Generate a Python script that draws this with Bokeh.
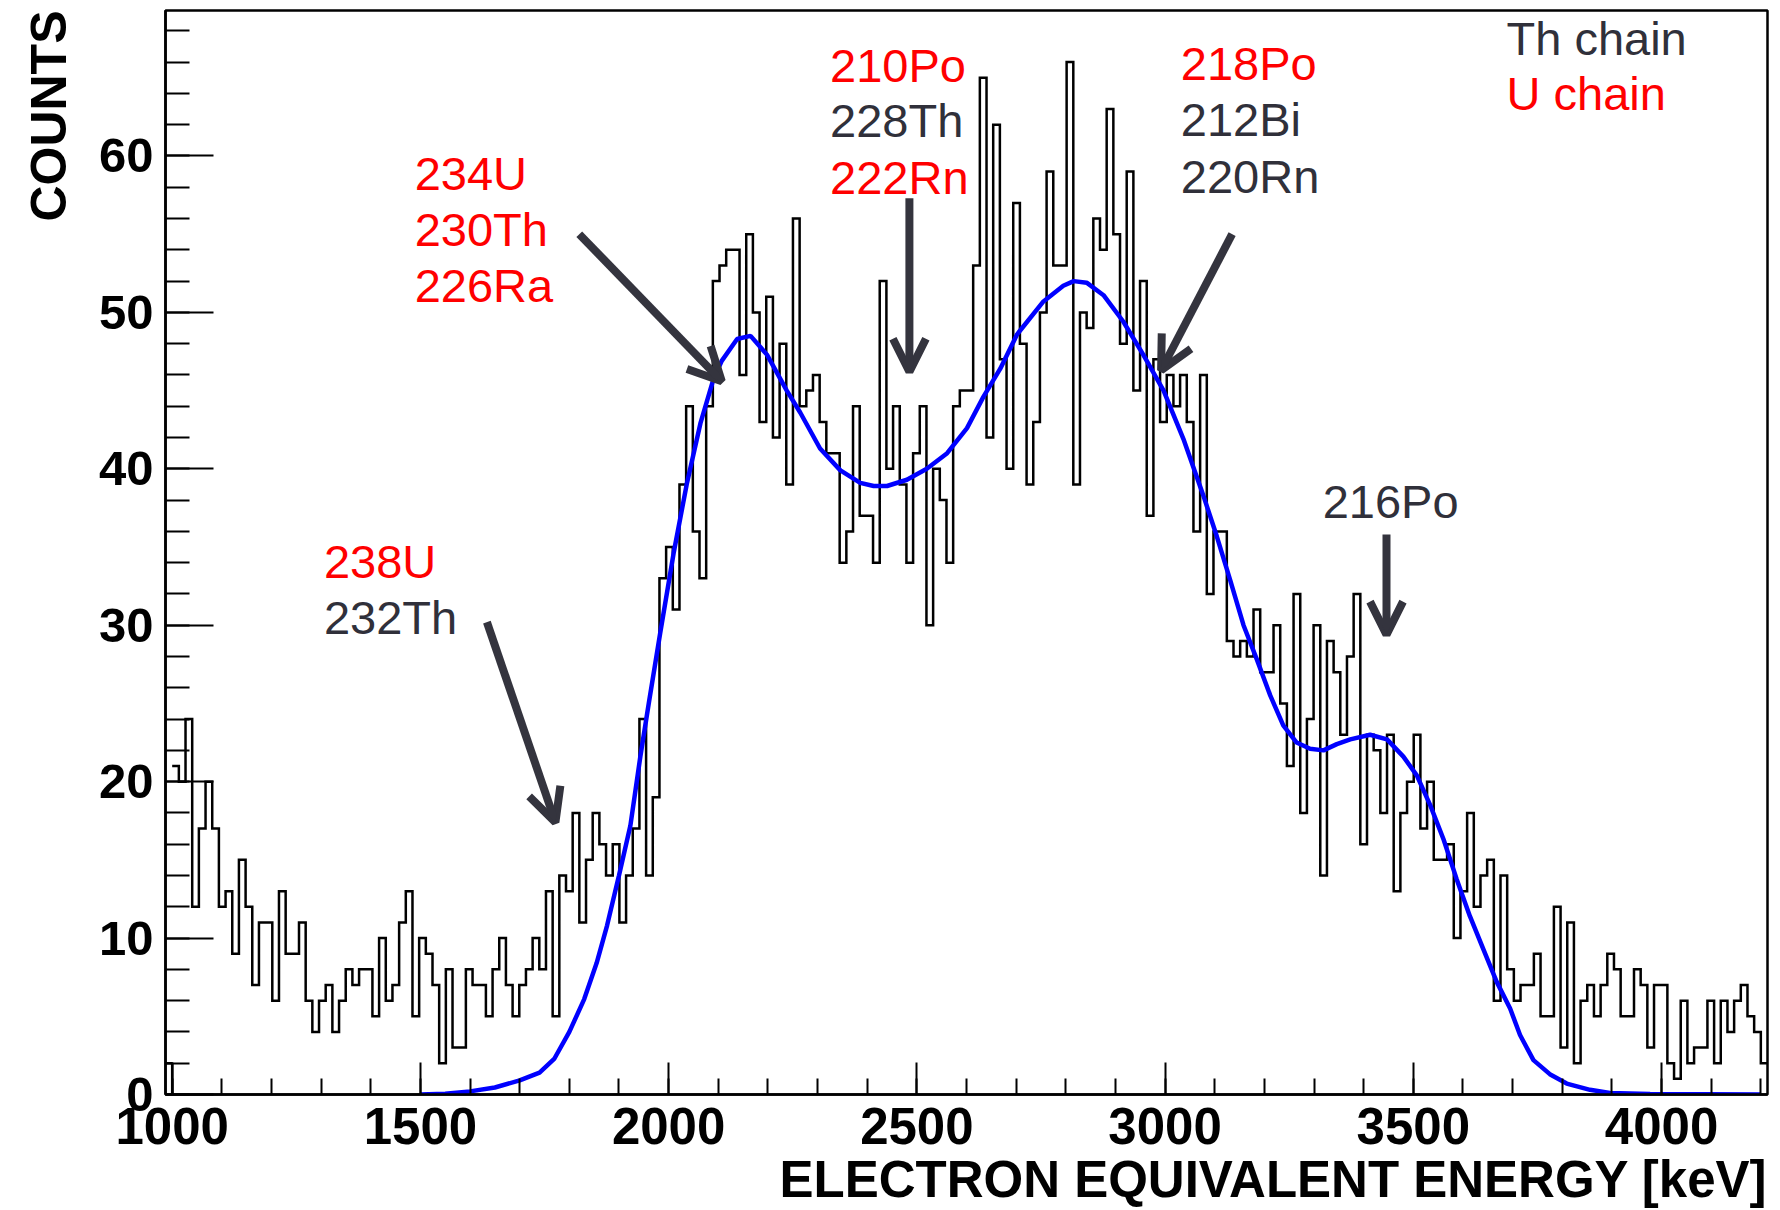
import numpy as np
from bokeh.plotting import figure
from bokeh.models import Range1d, FixedTicker, Label, Arrow, OpenHead, Title
from bokeh.embed import file_html
from bokeh.resources import INLINE

# ---------------- histogram definition ----------------
N_BINS = 240
E_LOW = 986.555
E_HIGH = 4213.445

counts_edge = [2]
counts_1000_1570 = [21, 20, 24, 12, 17, 20, 17, 12, 13, 9, 15, 12, 7, 11, 11, 6, 13, 9, 9, 11,
                    6, 4, 6, 7, 4, 6, 8, 7, 8, 8, 5, 10, 6, 7, 11, 13, 5, 10, 9, 7, 2, 8, 3]
counts_1570_1990 = [3, 8, 7, 7, 5, 8, 10, 7, 5, 7, 8, 10, 8, 13, 5, 14, 13, 18, 11, 15,
                    18, 16, 14, 16, 11, 14, 17, 24, 14, 19]
counts_1990_2070 = [33, 35, 31, 39, 44, 36]
counts_2070_2660 = [33, 44, 52, 53, 54, 54, 46, 55, 50, 43, 51, 42, 48, 39, 56, 44, 45, 46, 43, 41,
                    41, 34, 36, 44, 37, 37, 34, 52, 40, 44, 39, 34, 41, 44, 30, 40, 38, 34, 44, 45,
                    45, 53, 65, 42]
counts_2660_3060 = [62, 47, 40, 57, 48, 39, 43, 50, 59, 53, 53, 66, 39, 50, 49, 56, 54, 63, 55, 48,
                    59, 45, 52, 37, 47, 43, 46, 44, 46, 43]
counts_3060_3410 = [36, 46, 32, 36, 36, 29, 28, 29, 28, 31, 27, 27, 30, 25, 21, 32, 18, 24, 30, 14,
                    29, 27, 23, 28, 32, 16]
counts_3410_3730 = [23, 22, 18, 23, 13, 18, 20, 23, 17, 20, 15, 15, 16, 10, 13, 18, 12, 14, 15, 6,
                    14, 8, 6, 7]
counts_3730_4213 = [7, 9, 5, 5, 12, 3, 11, 2, 6, 7, 5, 7, 9, 8, 5, 5, 8, 7, 3, 7,
                    7, 2, 1, 6, 2, 3, 3, 6, 2, 6, 4, 6, 7, 5, 4, 2]

counts = np.array(counts_edge + counts_1000_1570 + counts_1570_1990 + counts_1990_2070
                  + counts_2070_2660 + counts_2660_3060 + counts_3060_3410
                  + counts_3410_3730 + counts_3730_4213, dtype=float)
assert len(counts) == N_BINS
edges = np.linspace(E_LOW, E_HIGH, N_BINS + 1)

# ---------------- fitted curve ----------------
fit_energy = [1500, 1550, 1600, 1650, 1700, 1740, 1770, 1800, 1830, 1855, 1876, 1900, 1923, 1943,
              1960, 1983, 2010, 2037, 2064, 2090, 2107, 2138, 2165, 2198, 2238, 2265, 2305, 2346,
              2386, 2413, 2440, 2480, 2520, 2561, 2601, 2634, 2668, 2702, 2755, 2795, 2816, 2842,
              2876, 2916, 2956, 2997, 3037, 3077, 3104, 3131, 3158, 3185, 3212, 3238, 3265, 3292,
              3319, 3346, 3373, 3413, 3447, 3480, 3507, 3534, 3561, 3587, 3614, 3641, 3668, 3695,
              3715, 3742, 3775, 3809, 3856, 3896, 3977, 4200]
fit_counts = [0.0, 0.05, 0.2, 0.45, 0.9, 1.4, 2.3, 4.0, 6.1, 8.4, 10.8, 14.0, 17.2, 21.6,
              25.0, 29.5, 34.6, 39.1, 42.9, 45.7, 46.9, 48.3, 48.5, 47.3, 45.0, 43.6, 41.3, 39.9,
              39.1, 38.9, 38.9, 39.3, 40.0, 41.0, 42.6, 44.6, 46.4, 48.6, 50.7, 51.7, 52.0, 51.9,
              51.1, 49.4, 47.3, 45.0, 41.9, 38.3, 35.7, 32.9, 30.0, 27.8, 25.5, 23.6, 22.5, 22.1,
              22.0, 22.4, 22.7, 23.0, 22.7, 21.6, 20.4, 18.5, 16.3, 13.8, 11.4, 9.3, 7.2, 5.5,
              3.8, 2.2, 1.3, 0.7, 0.3, 0.1, 0.03, 0.0]

# ---------------- axis ticks ----------------
x_major = [1000, 1500, 2000, 2500, 3000, 3500, 4000]
x_minor = list(range(1000, 4201, 100))
y_major = [0, 10, 20, 30, 40, 50, 60]
y_minor = list(range(0, 70, 2))

X_TITLE = "ELECTRON EQUIVALENT ENERGY [keV]"
Y_TITLE = "COUNTS"

RED = "#ff0000"
GRAY = "#30303a"
ARROW = "#34343e"

p = figure(width=1780, height=1210, output_backend="svg", toolbar_location=None,
           x_range=Range1d(E_LOW, E_HIGH), y_range=Range1d(0, 69.3),
           min_border_left=165, min_border_right=13, min_border_top=10, min_border_bottom=115)
p.xgrid.visible = False
p.ygrid.visible = False
p.background_fill_color = "white"
p.border_fill_color = "white"
p.outline_line_color = "black"
p.outline_line_width = 2.5
p.outline_line_alpha = 1.0

for ax in (p.xaxis[0], p.yaxis[0]):
    ax.axis_line_width = 2.5
    ax.major_tick_line_width = 2
    ax.minor_tick_line_width = 2
    ax.major_tick_out = 0
    ax.minor_tick_out = 0
    ax.major_label_text_font = "Liberation Sans"
    ax.major_label_text_font_style = "bold"
    ax.major_label_text_color = "black"

p.xaxis.ticker = FixedTicker(ticks=x_major, minor_ticks=x_minor)
p.xaxis.major_tick_in = 32
p.xaxis.minor_tick_in = 16
p.xaxis.major_label_text_font_size = "51px"
p.xaxis.major_label_standoff = 13

p.yaxis.ticker = FixedTicker(ticks=y_major, minor_ticks=y_minor)
p.yaxis.major_tick_in = 48
p.yaxis.minor_tick_in = 24
p.yaxis.major_label_text_font_size = "49px"
p.yaxis.major_label_standoff = 12

p.add_layout(Title(text=X_TITLE, align="right", text_font="Liberation Sans",
                   text_font_style="bold", text_font_size="51px", text_color="black",
                   standoff=5), "below")
p.add_layout(Title(text=Y_TITLE, align="right", text_font="Liberation Sans",
                   text_font_style="bold", text_font_size="50px", text_color="black",
                   standoff=37), "left")

# histogram outline
first_x = [edges[0], edges[1], edges[1]]
first_y = [counts[0], counts[0], 0]
p.line(first_x, first_y, line_color="black", line_width=2.5)
hx = np.column_stack([edges[1:-1], edges[2:]]).ravel()
hy = np.repeat(counts[1:], 2)
p.line(hx, hy, line_color="black", line_width=2.5, line_join="miter")

# fit
p.line(fit_energy, fit_counts, line_color="#0000ff", line_width=4.5)

# annotations
labels = [
    ("Th chain", GRAY, 3687.7, 67.5),
    ("U chain", RED, 3687.7, 64.0),
    ("234U", RED, 1488.5, 58.9),
    ("230Th", RED, 1488.5, 55.3),
    ("226Ra", RED, 1488.5, 51.7),
    ("210Po", RED, 2325.2, 65.8),
    ("228Th", GRAY, 2325.2, 62.25),
    ("222Rn", RED, 2325.2, 58.6),
    ("218Po", RED, 3031.6, 65.9),
    ("212Bi", GRAY, 3031.6, 62.35),
    ("220Rn", GRAY, 3031.6, 58.7),
    ("238U", RED, 1305.7, 34.1),
    ("232Th", GRAY, 1305.7, 30.5),
    ("216Po", GRAY, 3317.4, 37.9),
]
for txt, col, lx, ly in labels:
    p.add_layout(Label(x=lx, y=ly, text=txt, text_color=col, text_font="Liberation Sans",
                       text_font_size="47px", text_align="left", text_baseline="alphabetic"))

arrows = [
    (1820, 55.0, 2107, 45.6),
    (2485, 57.3, 2485, 46.2),
    (3135, 55.0, 2992, 46.3),
    (1634, 30.2, 1772, 17.4),
    (3446, 35.8, 3446, 29.4),
]
for xs_, ys_, xe_, ye_ in arrows:
    p.add_layout(Arrow(end=OpenHead(size=33, line_width=8, line_color=ARROW),
                       x_start=xs_, y_start=ys_, x_end=xe_, y_end=ye_,
                       line_width=8, line_color=ARROW))

open("out.html", "w").write(file_html(p, INLINE))
